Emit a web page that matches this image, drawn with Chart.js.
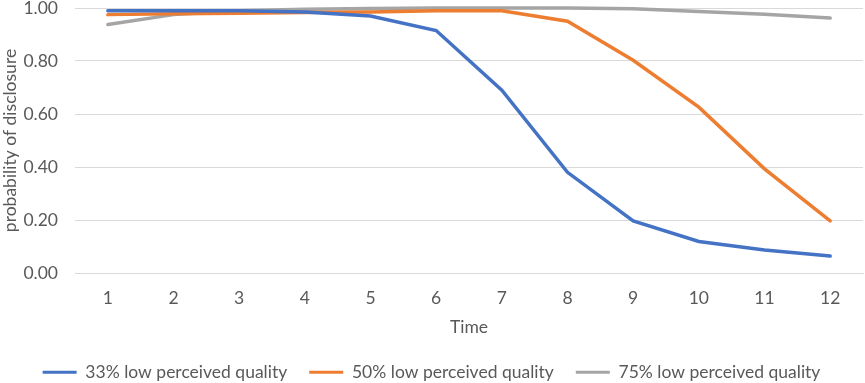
<!DOCTYPE html>
<html>
<head>
<meta charset="utf-8">
<script src="https://cdn.jsdelivr.net/npm/chart.js@4.4.0/dist/chart.umd.min.js"></script>
<style>
html,body{margin:0;padding:0;background:#fff;}
#wrap{width:865px;height:383px;position:relative;}
</style>
</head>
<body>
<div id="wrap"><canvas id="c" width="865" height="383"></canvas></div>
<script>
const categories = ['1','2','3','4','5','6','7','8','9','10','11','12'];
const seriesNames = ['33% low perceived quality','50% low perceived quality','75% low perceived quality'];
const low33 = [0.99,0.99,0.99,0.985,0.97,0.915,0.69,0.38,0.197,0.119,0.087,0.064];
const low50 = [0.975,0.978,0.98,0.983,0.985,0.99,0.99,0.95,0.803,0.626,0.393,0.197];
const low75 = [0.938,0.975,0.99,0.995,0.998,1.0,1.0,1.0,0.997,0.987,0.976,0.962];
const yTicks = [0,0.2,0.4,0.6,0.8,1.0];
const colors = ['#4472C4','#ED7D31','#A5A5A5'];
const FONT = 'Lato, "Open Sans", sans-serif';
const TXT = '#595959';
const FS = 17.5;

const datasets = [low33, low50, low75].map((d,i)=>({
  label: seriesNames[i],
  data: d,
  borderColor: colors[i],
  backgroundColor: colors[i],
  borderWidth: 3.5,
  pointRadius: 0,
  tension: 0,
  clip: false,
  borderCapStyle: 'round'
}));

new Chart(document.getElementById('c'), {
  type: 'line',
  data: { labels: categories, datasets },
  options: {
    responsive: false,
    animation: false,
    layout: { padding: { left: 0, right: 2, top: 0, bottom: -8 } },
    plugins: {
      tooltip: { enabled: false },
      legend: {
        position: 'bottom',
        labels: {
          font: { family: FONT, size: FS },
          color: TXT,
          boxWidth: 34,
          boxHeight: 3,
          padding: 22,
          generateLabels(chart){
            return chart.data.datasets.map((ds,i)=>({
              text: ds.label, fillStyle: ds.borderColor, strokeStyle: ds.borderColor,
              lineWidth: 0, hidden: false, datasetIndex: i, fontColor: TXT
            }));
          }
        }
      }
    },
    scales: {
      x: {
        offset: true,
        afterFit(scale){ scale.height = 68.5; },
        grid: { display: false, offset: true, drawTicks: false },
        border: { display: true, color: '#D9D9D9' },
        ticks: { font: { family: FONT, size: FS }, color: TXT, padding: 15, maxRotation: 0 },
        title: { display: true, text: 'Time', font: { family: FONT, size: FS }, color: TXT, padding: { top: 0, bottom: 4 } }
      },
      y: {
        min: 0, max: 1,
        afterBuildTicks(scale){ scale.ticks = yTicks.map(v=>({value:v})); },
        afterFit(scale){ scale.width = 75; scale.paddingTop = 8; },
        grid: { color: '#D9D9D9', lineWidth: 1, drawTicks: false },
        border: { display: false },
        ticks: { font: { family: FONT, size: FS }, color: TXT, padding: 17, callback: v => Number(v).toFixed(2) },
        title: { display: true, text: 'probability of disclosure', font: { family: FONT, size: FS }, color: TXT, padding: 0 }
      }
    }
  }
});
</script>
</body>
</html>
